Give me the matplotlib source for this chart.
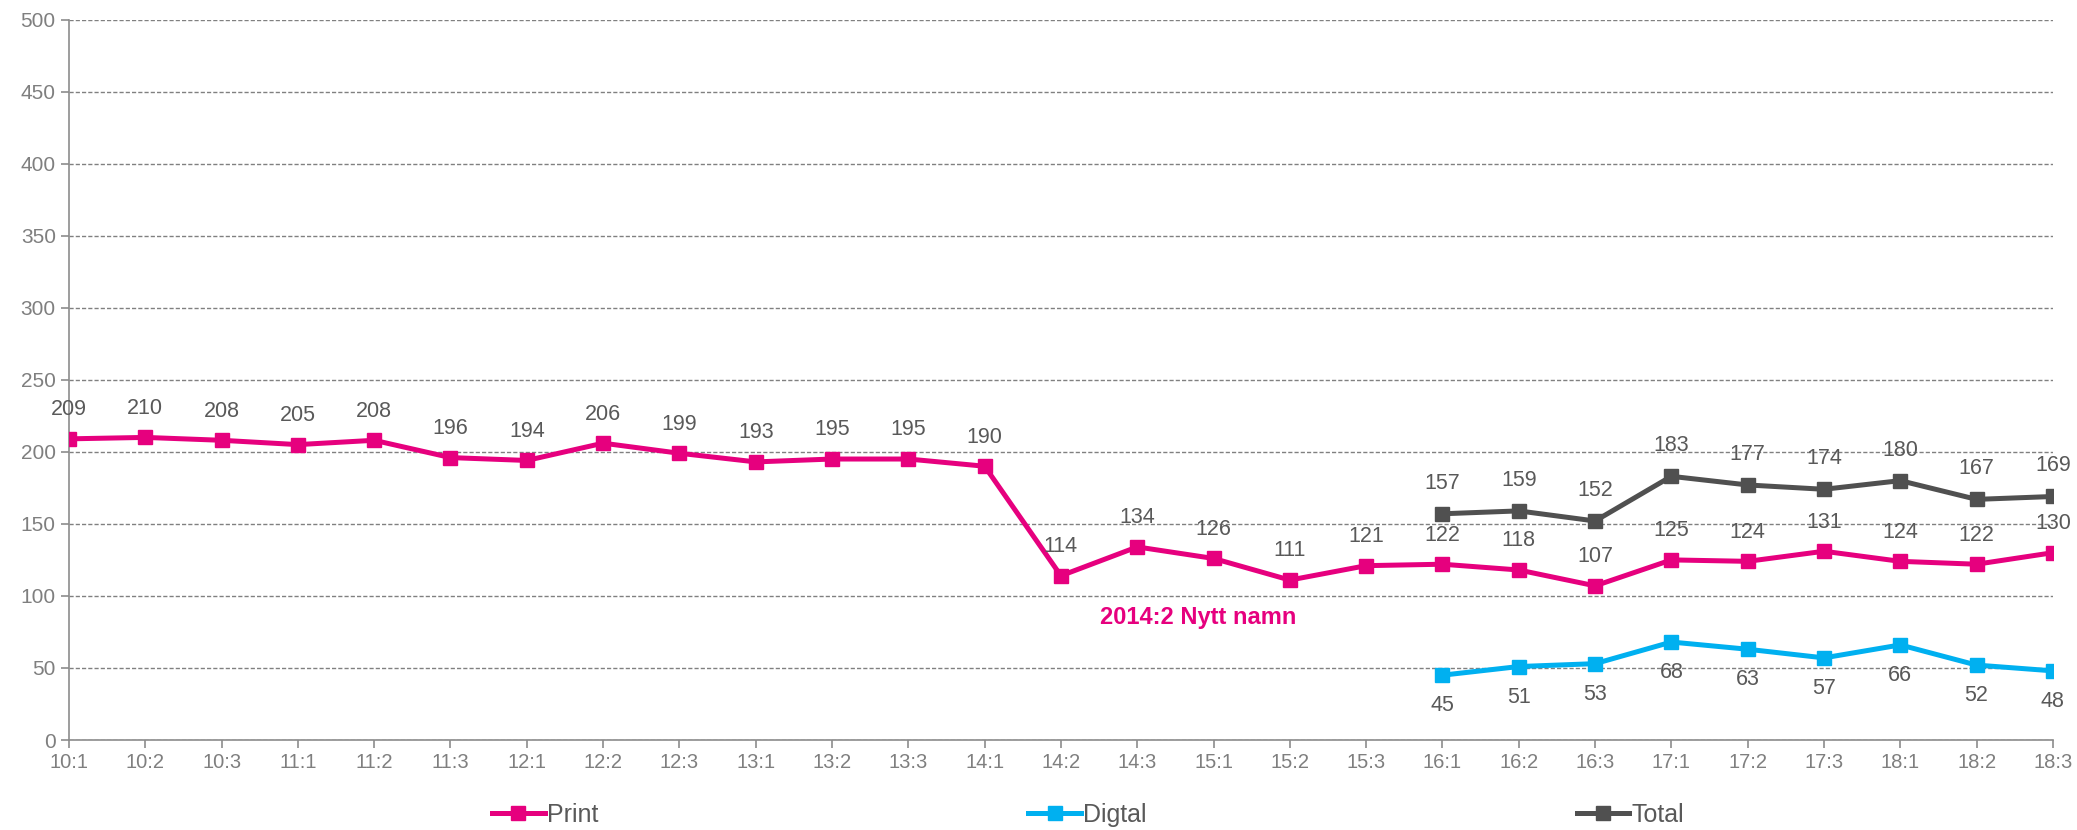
import matplotlib.pyplot as plt
import numpy as np

plt.rcParams['font.family'] = ['Liberation Sans', 'DejaVu Sans']

# quarters
quarters = ['10:1', '10:2', '10:3', '11:1', '11:2', '11:3', '12:1', '12:2', '12:3',
            '13:1', '13:2', '13:3', '14:1', '14:2', '14:3', '15:1', '15:2', '15:3',
            '16:1', '16:2', '16:3', '17:1', '17:2', '17:3', '18:1', '18:2', '18:3']

# series
print_vals = [209, 210, 208, 205, 208, 196, 194, 206, 199, 193, 195, 195, 190,
              114, 134, 126, 111, 121, 122, 118, 107, 125, 124, 131, 124, 122, 130]
digital_vals = [45, 51, 53, 68, 63, 57, 66, 52, 48]
total_vals = [157, 159, 152, 183, 177, 174, 180, 167, 169]
start_16 = quarters.index('16:1')

c_print = '#E6007E'
c_dig = '#00B0F0'
c_tot = '#505050'
c_lab = '#595959'
c_tick = '#7F7F7F'

fig = plt.figure(figsize=(20.77, 8.3), dpi=100)
ax = fig.add_axes([0.0332, 0.1084, 0.9552, 0.8681])

x_all = np.arange(len(quarters))
x_new = x_all[start_16:]

lp, = ax.plot(x_all, print_vals, color=c_print, lw=3.6, marker='s', ms=10, label='Print', zorder=3)
ld, = ax.plot(x_new, digital_vals, color=c_dig, lw=3.6, marker='s', ms=10, label='Digtal', zorder=3)
lt, = ax.plot(x_new, total_vals, color=c_tot, lw=3.6, marker='s', ms=10, label='Total', zorder=3)

# data labels
for xi, v in zip(x_all, print_vals):
    ax.annotate(str(v), (xi, v), xytext=(0, 21), textcoords='offset points',
                ha='center', va='center', fontsize=15.5, color=c_lab)
for xi, v in zip(x_new, total_vals):
    ax.annotate(str(v), (xi, v), xytext=(0, 22), textcoords='offset points',
                ha='center', va='center', fontsize=15.5, color=c_lab)
for xi, v in zip(x_new, digital_vals):
    ax.annotate(str(v), (xi, v), xytext=(0, -22), textcoords='offset points',
                ha='center', va='center', fontsize=15.5, color=c_lab)

ax.text(14.8, 85, '2014:2 Nytt namn', color=c_print, fontsize=17, fontweight='bold',
        ha='center', va='center')

ax.set_xlim(0, len(quarters) - 1)
ax.set_ylim(0, 500)
ax.set_xticks(x_all)
ax.set_xticklabels(quarters)
ax.set_yticks(np.arange(0, 501, 50))

ax.grid(axis='y', linestyle=(0, (3, 1.5)), color='#808080', lw=1)
ax.set_axisbelow(True)
for s in ['top', 'right']:
    ax.spines[s].set_visible(False)
for s in ['left', 'bottom']:
    ax.spines[s].set_color('#8C8C8C')
    ax.spines[s].set_linewidth(1.2)
ax.tick_params(axis='both', colors='#8C8C8C', labelcolor=c_tick, length=6, width=1.2)
ax.tick_params(axis='x', labelsize=14.5)
ax.tick_params(axis='y', labelsize=15)

fig.legend(handles=[lp, ld, lt], loc='center', bbox_to_anchor=(0.524, 0.018), ncol=3,
           frameon=False, fontsize=18, labelcolor=c_lab, handlelength=2.1,
           handletextpad=0.1, columnspacing=17.2)

fig.savefig('out.png', dpi=100)
